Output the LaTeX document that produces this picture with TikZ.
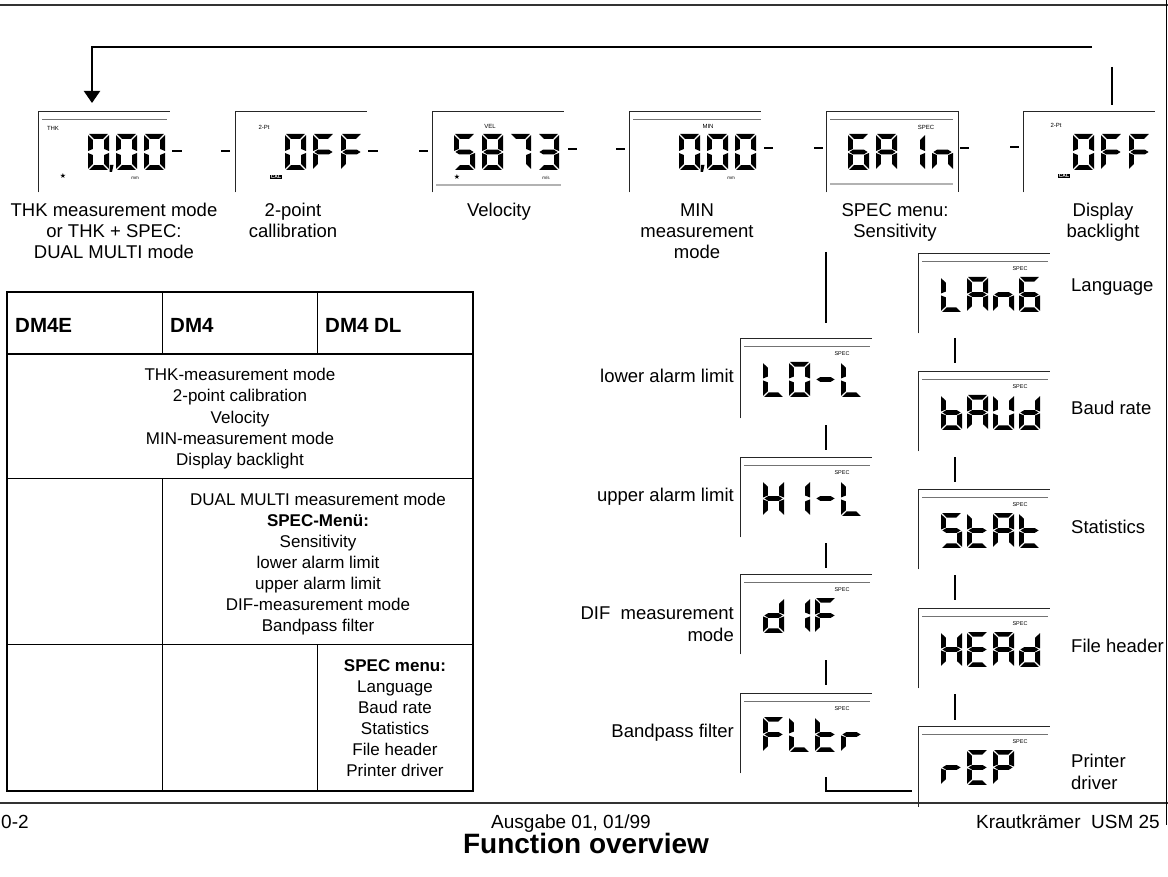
\documentclass[tikz,border=0pt]{standalone}
\usepackage{fontspec}
\setmainfont{Liberation Sans}
\newfontfamily\symfont{DejaVu Sans}
\usetikzlibrary{arrows.meta}
% seven-segment pieces in a 21 x 36 cell (y downwards)
\newcommand\lcdsega{\fill (1.2,0) -- (19.8,0) -- (15.2,4.8) -- (5.8,4.8) -- cycle;}
\newcommand\lcdsegb{\fill (21,1.2) -- (21,17) -- (16.2,15) -- (16.2,5.8) -- cycle;}
\newcommand\lcdsegc{\fill (21,19) -- (21,34.8) -- (16.2,30.2) -- (16.2,21) -- cycle;}
\newcommand\lcdsegd{\fill (1.2,36) -- (19.8,36) -- (15.2,31.2) -- (5.8,31.2) -- cycle;}
\newcommand\lcdsege{\fill (0,19) -- (0,34.8) -- (4.8,30.2) -- (4.8,21) -- cycle;}
\newcommand\lcdsegf{\fill (0,1.2) -- (0,17) -- (4.8,15) -- (4.8,5.8) -- cycle;}
\newcommand\lcdsegg{\fill (1.4,18) -- (5.2,15.6) -- (15.8,15.6) -- (19.6,18) -- (15.8,20.4) -- (5.2,20.4) -- cycle;}
\newcommand\lcdchar[4]{\begin{scope}[shift={(#1,#2)},yscale=#3]\foreach \s in {#4} {\csname lcdseg\s\endcsname}\end{scope}}
\newcommand\lcdmaybe[4]{\if\relax\detokenize{#4}\relax\else\lcdchar{#1}{#2}{#3}{#4}\fi}
\newcommand\lcdrow[8]{\lcdmaybe{#1}{#2}{#4}{#5}\lcdmaybe{#1+#3}{#2}{#4}{#6}\lcdmaybe{#1+2*#3}{#2}{#4}{#7}\lcdmaybe{#1+3*#3}{#2}{#4}{#8}}
\begin{document}
\begin{tikzpicture}[x=1pt,y=-1pt,
  frame/.style={line width=0.9pt, draw=black!85},
  innerl/.style={line width=0.8pt, draw=black!55},
  grayl/.style={line width=1.6pt, draw=black!30},
  conn/.style={line width=2pt},
  dashl/.style={line width=2.2pt},
  rule/.style={line width=1.8pt, draw=black!80},
  disp/.style={minimum width=132pt, minimum height=81pt, inner sep=0pt, anchor=north west},
  cdisp/.style={minimum width=132pt, minimum height=80pt, inner sep=0pt, anchor=north west},
  lab/.style={font=\fontsize{18.5}{22}\selectfont, inner sep=0pt, anchor=base},
  labl/.style={lab, anchor=base west},
  labr/.style={lab, anchor=base east},
  tab/.style={font=\fontsize{17}{21}\selectfont, inner sep=0pt, anchor=base},
  tabb/.style={tab, font=\fontsize{17}{21}\selectfont\bfseries},
  head/.style={font=\fontsize{20.5}{24}\selectfont\bfseries, inner sep=0pt, anchor=base west},
  tiny/.style={font=\fontsize{6}{6}\selectfont, inner sep=0pt},
  unit/.style={font=\fontsize{4.5}{4.5}\selectfont, inner sep=0pt},
  star/.style={font=\symfont\fontsize{7}{7}\selectfont, inner sep=0pt},
  cal/.style={fill=black, text=white, font=\fontsize{5}{5}\selectfont\bfseries, inner sep=0.7pt},
  foot/.style={font=\fontsize{19}{19}\selectfont, inner sep=0pt},
]
\useasboundingbox (0,0) rectangle (1168,877);
% page rules
\draw[rule] (0,5) -- (1168,5);
\draw[rule] (0,803) -- (1168,803);
\draw[line width=0.9pt] (1166.5,0) -- (1166.5,825);

% ---------------- top row displays ----------------
\node[disp] (d1) at (38,111) {};
\node[disp] (d2) at (235,111) {};
\node[disp] (d3) at (432,111) {};
\node[disp] (d4) at (629,111) {};
\node[disp] (d5) at (826,111) {};
\node[disp] (d6) at (1023,111) {};
\foreach \d in {d1,d2,d3,d4,d5,d6} {\draw[frame] (\d.south west) -- (\d.north west) -- (\d.north east);}
\draw[frame] (d5.north east) -- (d5.south east);
\draw[innerl] (42,119) -- (167,119);
\draw[innerl] (633,119) -- (761,119);
\draw[innerl] (830,119) -- (953,119);
\draw[grayl] (436,185) -- (561,185);
\draw[grayl] (830,184) -- (953,184);
% display 1
\node[tiny] at (53,128) {THK};
\lcdrow{60}{134}{28}{1}{}{a,b,c,d,e,f}{a,b,c,d,e,f}{a,b,c,d,e,f}
\fill (110,165) -- (113.5,165) -- (112,172) -- (109.5,172) -- cycle;
\node[star] at (63,176) {★};
\node[unit] at (135,178) {mm};
% display 2
\node[tiny] at (264,127) {2-Pt};
\lcdrow{257}{134}{28}{1}{}{a,b,c,d,e,f}{a,e,f,g}{a,e,f,g}
\node[cal] at (276,177) {CAL};
% display 3
\node[tiny] at (490,126) {VEL};
\lcdrow{454}{134}{28}{1}{a,c,d,f,g}{a,b,c,d,e,f,g}{a,b,c}{a,b,c,d,g}
\node[star] at (457,177) {★};
\node[unit] at (546,178) {m/s};
% display 4
\node[tiny] at (708,126) {MIN};
\lcdrow{651}{134}{28}{1}{}{a,b,c,d,e,f}{a,b,c,d,e,f}{a,b,c,d,e,f}
\fill (701,165) -- (704.5,165) -- (703,172) -- (700.5,172) -- cycle;
\node[unit] at (731,178) {mm};
% display 5
\node[tiny] at (926,127) {SPEC};
\lcdrow{848}{134}{28}{1}{a,c,d,e,f,g}{a,b,c,e,f,g}{b,c}{c,e,g}
% display 6
\node[tiny] at (1056,125) {2-Pt};
\lcdrow{1045}{134}{28}{1}{}{a,b,c,d,e,f}{a,e,f,g}{a,e,f,g}
\node[cal] at (1064,176) {CAL};

% dashes between displays
\draw[dashl] (172,151) -- (182,151);
\draw[dashl] (221,151) -- (230,151);
\draw[dashl] (368,151) -- (378,151);
\draw[dashl] (419,151) -- (428,151);
\draw[dashl] (568,149) -- (577,149);
\draw[dashl] (616,149) -- (625,149);
\draw[dashl] (764,148) -- (773,148);
\draw[dashl] (814,148) -- (823,148);
\draw[dashl] (960,148) -- (969,148);
\draw[dashl] (1010,147) -- (1019,147);

% feedback arrow
\coordinate (fbR) at (1092,47);
\coordinate (fbL) at (92,47);
\coordinate (fbT) at (92,103);
\draw[conn, -{Triangle[width=16pt,length=12pt]}] (fbR) -- (fbL) -- (fbT);
\coordinate (rvA) at (1112,67);
\coordinate (rvB) at (1112,105);
\draw[conn] (rvA) -- (rvB);

% top labels
\node[lab] at (114,217) {THK measurement mode};
\node[lab] at (114,238) {or THK + SPEC:};
\node[lab] at (114,259) {DUAL MULTI mode};
\node[lab] at (293,217) {2-point};
\node[lab] at (293,238) {callibration};
\node[lab] at (499,217) {Velocity};
\node[lab] at (697,217) {MIN};
\node[lab] at (697,238) {measurement};
\node[lab] at (697,259) {mode};
\node[lab] at (895,217) {SPEC menu:};
\node[lab] at (895,238) {Sensitivity};
\node[lab] at (1103,217) {Display};
\node[lab] at (1103,238) {backlight};

% ---------------- side columns ----------------
\node[cdisp] (m1) at (740,338) {};
\node[cdisp] (m2) at (740,457) {};
\node[cdisp] (m3) at (740,574) {};
\node[cdisp] (m4) at (740,693) {};
\node[cdisp] (r1) at (918,253) {};
\node[cdisp] (r2) at (918,371) {};
\node[cdisp] (r3) at (918,489) {};
\node[cdisp] (r4) at (918,608) {};
\node[cdisp] (r5) at (918,726) {};
\foreach \d in {m1,m2,m3,m4,r1,r2,r3,r4,r5} {
  \draw[frame] (\d.south west) -- (\d.north west) -- (\d.north east);
  \draw[innerl] ([shift={(4,8)}]\d.north west) -- ([shift={(-2,8)}]\d.north east);
  \node[tiny, font=\fontsize{5.5}{5.5}\selectfont] at ([shift={(102,16)}]\d.north west) {SPEC};
}
\draw[frame] (r5.south west) -- ++(0,1);
\lcdrow{763}{362}{26}{0.97}{d,e,f}{a,b,c,d,e,f}{g}{d,e,f}
\lcdrow{763}{481}{26}{0.97}{b,c,e,f,g}{b,c}{g}{d,e,f}
\lcdrow{763}{598}{26}{0.97}{b,c,d,e,g}{b,c}{a,e,f,g}{}
\lcdrow{763}{717}{26}{0.97}{a,e,f,g}{d,e,f}{d,e,f,g}{e,g}
\lcdrow{941}{277}{26}{0.97}{d,e,f}{a,b,c,e,f,g}{c,e,g}{a,c,d,e,f,g}
\lcdrow{941}{395}{26}{0.97}{c,d,e,f,g}{a,b,c,e,f,g}{b,c,d,e,f}{b,c,d,e,g}
\lcdrow{941}{513}{26}{0.97}{a,c,d,f,g}{d,e,f,g}{a,b,c,e,f,g}{d,e,f,g}
\lcdrow{941}{632}{26}{0.97}{b,c,e,f,g}{a,d,e,f,g}{a,b,c,e,f,g}{b,c,d,e,g}
\lcdrow{941}{750}{26}{0.97}{e,g}{a,d,e,f,g}{a,b,e,f,g}{}

% column connectors
\coordinate (s1) at (826,252); \coordinate (s2) at (826,323);
\coordinate (s3) at (826,425); \coordinate (s4) at (826,450);
\coordinate (s5) at (826,543); \coordinate (s6) at (826,568);
\coordinate (s7) at (826,660); \coordinate (s8) at (826,685);
\coordinate (s9) at (826,777); \coordinate (s10) at (826,791); \coordinate (s11) at (912,791);
\draw[conn] (s1) -- (s2);
\draw[conn] (s3) -- (s4);
\draw[conn] (s5) -- (s6);
\draw[conn] (s7) -- (s8);
\draw[conn] (s9) -- (s10) -- (s11);
\coordinate (t1) at (955,338); \coordinate (t2) at (955,363);
\coordinate (t3) at (955,457); \coordinate (t4) at (955,482);
\coordinate (t5) at (955,575); \coordinate (t6) at (955,600);
\coordinate (t7) at (955,694); \coordinate (t8) at (955,720);
\draw[conn] (t1) -- (t2);
\draw[conn] (t3) -- (t4);
\draw[conn] (t5) -- (t6);
\draw[conn] (t7) -- (t8);

% column labels
\node[labr] at (734,383) {lower alarm limit};
\node[labr] at (734,501) {upper alarm limit};
\node[labr] at (734,619) {DIF\ \ measurement};
\node[labr] at (734,641) {mode};
\node[labr] at (734,737) {Bandpass filter};
\node[labl] at (1071,292) {Language};
\node[labl] at (1071,414) {Baud rate};
\node[labl] at (1071,533) {Statistics};
\node[labl] at (1071,652) {File header};
\node[labl] at (1071,767) {Printer};
\node[labl] at (1071,789) {driver};

% ---------------- table ----------------
\draw[line width=1.8pt] (7,292) rectangle (473,791);
\draw[line width=1.8pt] (7,354) -- (473,354);
\draw[line width=1pt] (7,478) -- (473,478);
\draw[line width=1pt] (7,644) -- (473,644);
\draw[line width=1pt] (162,292) -- (162,354);
\draw[line width=1pt] (317,292) -- (317,354);
\draw[line width=1pt] (162,478) -- (162,791);
\draw[line width=1pt] (317,644) -- (317,791);
\node[head] at (15,333) {DM4E};
\node[head] at (170,333) {DM4};
\node[head] at (325,333) {DM4 DL};
\node[tab] at (240,381) {THK-measurement mode};
\node[tab] at (240,402) {2-point calibration};
\node[tab] at (240,423) {Velocity};
\node[tab] at (240,444) {MIN-measurement mode};
\node[tab] at (240,465) {Display backlight};
\node[tab] at (318,505) {DUAL MULTI measurement mode};
\node[tabb] at (318,526) {SPEC-Menü:};
\node[tab] at (318,547) {Sensitivity};
\node[tab] at (318,568) {lower alarm limit};
\node[tab] at (318,589) {upper alarm limit};
\node[tab] at (318,610) {DIF-measurement mode};
\node[tab] at (318,631) {Bandpass filter};
\node[tabb] at (395,671) {SPEC menu:};
\node[tab] at (395,692) {Language};
\node[tab] at (395,713) {Baud rate};
\node[tab] at (395,734) {Statistics};
\node[tab] at (395,755) {File header};
\node[tab] at (395,776) {Printer driver};

% ---------------- footer ----------------
\node[foot, anchor=base west] at (1,828) {0-2};
\node[foot, anchor=base] at (571,828) {Ausgabe 01, 01/99};
\node[foot, anchor=base east] at (1160,828) {Krautkrämer\ \ USM 25};
\node[font=\fontsize{28}{28}\selectfont\bfseries, inner sep=0pt, anchor=base] at (586,853) {Function overview};
\end{tikzpicture}
\end{document}
